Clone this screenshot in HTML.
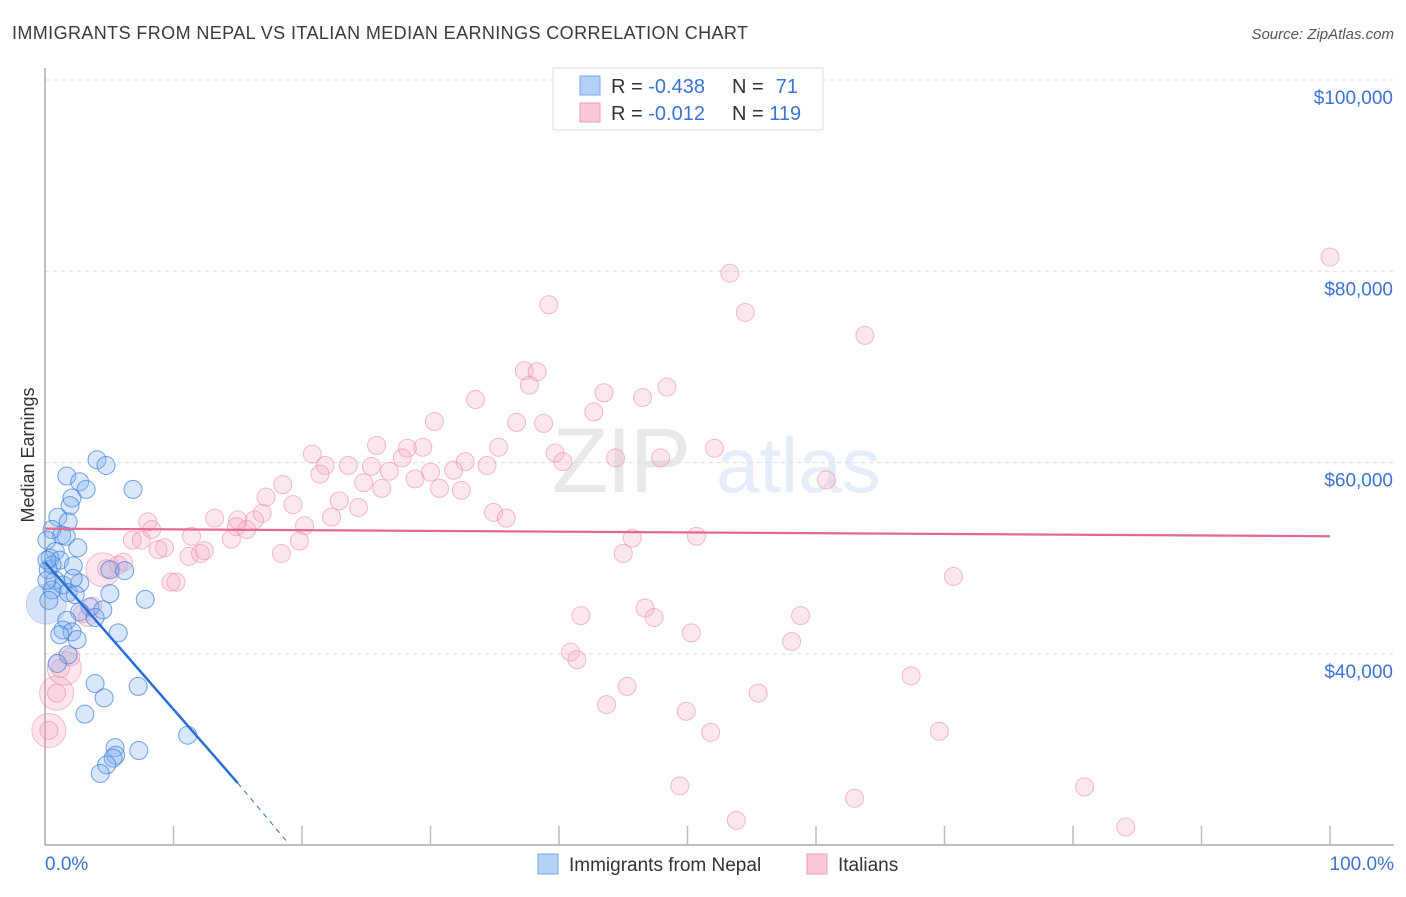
<!DOCTYPE html>
<html><head><meta charset="utf-8"><style>
body{margin:0;background:#fff;font-family:"Liberation Sans",sans-serif}
svg text{font-family:"Liberation Sans",sans-serif}
</style></head><body>
<svg id="chart" width="1406" height="892" viewBox="0 0 1406 892" xmlns="http://www.w3.org/2000/svg">
<text x="12" y="39" font-size="18" fill="#3a3a3a" textLength="736" lengthAdjust="spacing">IMMIGRANTS FROM NEPAL VS ITALIAN MEDIAN EARNINGS CORRELATION CHART</text>
<text x="1394" y="39" font-size="15" fill="#555" font-style="italic" text-anchor="end">Source: ZipAtlas.com</text>
<text transform="translate(34,455) rotate(-90)" font-size="18" fill="#333" text-anchor="middle">Median Earnings</text>
<g opacity="0.13">
<text x="552" y="492" font-size="92" fill="#555" font-family="Liberation Serif" letter-spacing="-2">ZIP</text>
<text x="716" y="492" font-size="78" fill="#3b7dd8">atlas</text>
</g>
<g id="grid"></g>
<g id="axes"></g>
<g id="pinkPts"></g>
<g id="bluePts"></g>
<g id="trends"></g>
<g>
<rect x="553" y="68" width="270" height="62" fill="#fff" stroke="#ddd"/>
<rect x="580" y="76" width="20" height="19" fill="#b5d0f5" stroke="#7aa6e8"/>
<rect x="580" y="103" width="20" height="19" fill="#fbcad8" stroke="#ee9ab3"/>
<text x="611" y="93" font-size="20" fill="#333">R = <tspan fill="#3b73d1">-0.438</tspan></text>
<text x="732" y="93" font-size="20" fill="#333">N = </text><text x="798" y="93" font-size="20" fill="#3b73d1" text-anchor="end">71</text>
<text x="611" y="120" font-size="20" fill="#333">R = <tspan fill="#3b73d1"> -0.012</tspan></text>
<text x="732" y="120" font-size="20" fill="#333">N = <tspan fill="#3b73d1">119</tspan></text>
</g>
<g>
<rect x="538" y="854" width="20" height="20" fill="#b5d0f5" stroke="#7aa6e8"/>
<text x="569" y="871" font-size="19" fill="#333">Immigrants from Nepal</text>
<rect x="807" y="854" width="20" height="20" fill="#fbcad8" stroke="#ee9ab3"/>
<text x="838" y="871" font-size="19" fill="#333">Italians</text>
</g>
</svg>
<script>
const yTicks=[100000,80000,60000,40000];
const yTickLabels=["$100,000","$80,000","$60,000","$40,000"];
const xTickLabels=["0.0%","100.0%"];
const blueX=[4.05,4.75,1.7,2.7,3.2,6.85,2.1,1.95,1.0,1.8,0.55,1.3,1.65,0.15,2.55,0.8,0.4,1.15,0.55,0.25,2.2,5.05,6.2,0.8,1.4,2.7,2.2,0.55,1.8,2.35,5.05,7.8,3.5,4.5,2.7,1.7,3.9,1.4,2.1,1.15,5.7,2.5,1.8,0.95,3.9,7.25,4.6,3.1,11.1,5.45,5.5,5.3,7.3,4.8,4.3,0.15,0.15,0.3];
const blueY=[60.3,59.7,58.6,58.0,57.2,57.2,56.3,55.5,54.3,53.8,53.0,52.4,52.3,51.9,51.1,50.7,50.0,49.8,49.3,48.8,49.2,48.8,48.7,47.7,47.2,47.4,47.9,46.7,46.4,46.2,46.3,45.7,44.9,44.6,44.4,43.5,43.8,42.5,42.3,42.0,42.2,41.5,39.9,39.0,36.9,36.6,35.4,33.7,31.5,30.2,29.4,29.1,29.9,28.4,27.5,49.8,47.7,45.6];
const pinkX=[100,53.3,39.2,54.5,63.8,37.3,38.3,37.7,48.4,43.5,46.5,33.5,42.7,30.3,36.7,38.8,25.8,28.2,29.4,35.3,52.1,39.7,20.8,27.8,44.4,47.9,32.7,21.8,23.6,25.4,40.3,34.4,21.4,31.8,26.8,30.0,60.8,28.8,24.8,26.2,30.7,32.4,18.5,17.2,19.3,22.9,24.4,16.9,34.9,35.9,13.2,15.0,16.3,22.3,20.2,8.0,8.3,14.9,15.7,19.8,11.4,14.5,6.8,7.5,50.7,45.7,9.3,8.8,11.2,12.1,12.4,18.4,45.0,6.1,5.7,4.8,70.7,9.8,10.2,46.7,41.7,47.4,58.8,3.7,2.9,3.3,50.3,58.1,40.9,41.4,2.0,1.2,67.4,45.3,55.5,43.7,49.9,51.8,69.6,0.9,0.3,49.4,80.9,63.0,53.8,84.1];
const pinkY=[81.5,79.8,76.5,75.7,73.3,69.6,69.5,68.1,67.9,67.3,66.8,66.6,65.3,64.3,64.2,64.1,61.8,61.5,61.6,61.6,61.5,61.0,60.9,60.5,60.5,60.5,60.1,59.7,59.7,59.6,60.1,59.7,58.8,59.2,59.1,59.0,58.2,58.3,57.9,57.3,57.3,57.1,57.7,56.4,55.6,56.0,55.3,54.7,54.8,54.2,54.2,54.0,54.0,54.3,53.4,53.8,53.0,53.3,53.0,51.8,52.3,52.0,51.9,51.9,52.3,52.1,51.1,50.9,50.2,50.5,50.8,50.5,50.5,49.6,49.3,48.9,48.1,47.5,47.5,44.8,44.0,43.8,44.0,45.0,44.2,43.8,42.2,41.3,40.2,39.4,39.7,38.5,37.7,36.6,35.9,34.7,34.0,31.8,31.9,35.9,32.0,26.2,26.1,24.9,22.6,21.9];
const bigBlueX=[0.1],bigBlueY=[45.2];
const bigPinkX=[0.9,0.3,4.5,1.5],bigPinkY=[35.9,32.0,48.8,38.5];
const blueTrendX=[0,15],blueTrendY=[49.6,26.5];
const blueDashX=[15,19],blueDashY=[26.5,20.1];
const pinkTrendX=[0,100],pinkTrendY=[53.1,52.3];

const NS="http://www.w3.org/2000/svg";
const sx=p=>45+p*12.85;
const sy=k=>80+(100-k)*9.565;
function mk(tag,attrs,parent){const e=document.createElementNS(NS,tag);for(const k in attrs)e.setAttribute(k,attrs[k]);document.getElementById(parent).appendChild(e);return e;}

yTicks.forEach((v,i)=>{
 const y=sy(v/1000);
 const l=mk('line',{x1:45,x2:1394,y1:y,y2:y,stroke:'#ddd','stroke-dasharray':'4,4'},'grid');
 
 
 const t=mk('text',{x:1393,y:y+24,'font-size':19,fill:'#3b73d1','text-anchor':'end'},'grid');
 t.textContent=yTickLabels[i];
 
 
});
const ax=mk('line',{x1:45,x2:45,y1:68,y2:845,stroke:'#aaa','stroke-width':1.5},'axes');


const bx=mk('line',{x1:45,x2:1394,y1:845,y2:845,stroke:'#aaa','stroke-width':1.5},'axes');


for(let i=1;i<=10;i++){
 const tk=mk('line',{x1:sx(i*10),x2:sx(i*10),y1:826,y2:845,stroke:'#bbb','stroke-width':1.5},'axes');
 
 
}
[[0,'start',45],[100,'end',1394]].forEach((d,i)=>{
 const t=mk('text',{x:d[2],y:870,'font-size':19,fill:'#3b73d1','text-anchor':d[1]},'axes');
 t.textContent=xTickLabels[i];
 
 
});

function pts(X,Y,r,fill,stroke,g,name){
 X.forEach((x,i)=>{
  const c=mk('circle',{cx:sx(x),cy:sy(Y[i]),r:r,fill:fill,stroke:stroke,'stroke-width':1},g);
  
  
 });
}
pts(bigPinkX,bigPinkY,17,'rgba(245,150,180,0.25)','rgba(235,120,155,0.45)','pinkPts','italians-point');
pts(pinkX,pinkY,9,'rgba(248,170,195,0.28)','rgba(235,130,165,0.55)','pinkPts','italians-point');
pts(bigBlueX,bigBlueY,20,'rgba(120,165,235,0.3)','rgba(120,165,235,0.4)','bluePts','nepal-point');
pts(blueX,blueY,9,'rgba(130,175,240,0.3)','rgba(60,125,220,0.7)','bluePts','nepal-point');

const bt=mk('line',{x1:sx(blueTrendX[0]),y1:sy(blueTrendY[0]),x2:sx(blueTrendX[1]),y2:sy(blueTrendY[1]),stroke:'#2a6fd6','stroke-width':2.5},'trends');


const bd=mk('line',{x1:sx(blueDashX[0]),y1:sy(blueDashY[0]),x2:sx(blueDashX[1]),y2:sy(blueDashY[1]),stroke:'#2a6fd6','stroke-width':1,'stroke-dasharray':'5,5'},'trends');


const pt=mk('line',{x1:sx(pinkTrendX[0]),y1:sy(pinkTrendY[0]),x2:sx(pinkTrendX[1]),y2:sy(pinkTrendY[1]),stroke:'#e5688f','stroke-width':2.2},'trends');


</script>
</body></html>
